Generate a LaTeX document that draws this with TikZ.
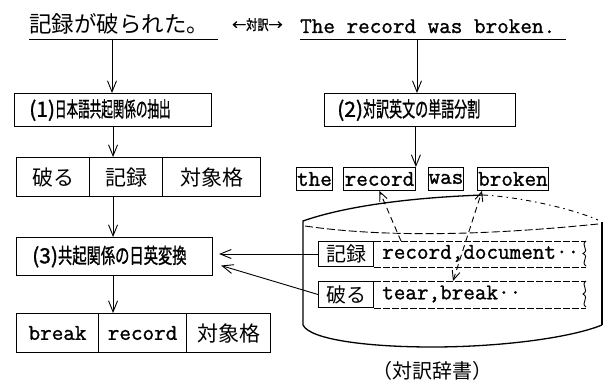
\documentclass[tikz,border=0pt]{standalone}
\usepackage{fontspec}
\usetikzlibrary{arrows.meta}
\setmonofont[FakeBold=1.2]{Latin Modern Mono}
\newfontfamily\jp{Noto Sans CJK JP}
\newfontfamily\jpp[FakeBold=1.3]{Noto Sans CJK JP}
\newcommand\fsz[1]{\fontsize{#1}{#1}\selectfont}
\newcommand\cnd[2]{\scalebox{#1}[1]{#2}}
\tikzset{
  arr/.style={-{Straight Barb[length=11pt,width=9pt]}, line width=0.9pt},
  darr/.style={-{Straight Barb[length=9pt,width=8pt]}, line width=0.9pt, dash pattern=on 6pt off 4pt},
  ddarr/.style={{Straight Barb[length=9pt,width=8pt]}-{Straight Barb[length=9pt,width=8pt]}, line width=0.9pt, dash pattern=on 6pt off 4pt},
  box/.style={draw, line width=1.1pt, anchor=north west, inner sep=0pt},
  boxtext/.style={anchor=west, inner sep=0pt, font=\jpp\fsz{21}},
  cell/.style={draw, line width=1.1pt, anchor=north west, inner sep=0pt},
  wbox/.style={draw, line width=0.9pt, anchor=north west, inner sep=0pt, minimum height=23pt, font=\ttfamily\fsz{22.5}},
  dcell/.style={draw, line width=1pt, anchor=north west, inner sep=0pt, minimum width=55pt, font=\jp\fsz{20}},
  ulin/.style={line width=0.8pt},
  cyl/.style={line width=1.3pt},
  rowedge/.style={line width=0.8pt, dash pattern=on 7pt off 2pt},
}
\begin{document}
\begin{tikzpicture}[x=1pt, y=-1pt]
\useasboundingbox (0,0) rectangle (605,382);

% titles
\node[anchor=base west, inner sep=0pt] (tjp) at (29,33) {\jp\fsz{22.5}記録が破られた。};
\node[anchor=base west, inner sep=0pt] (tmid) at (232,30) {\jpp\fsz{14}←\cnd{0.8}{対訳}→};
\node[anchor=base west, inner sep=0pt] (ten) at (300,33) {\ttfamily\fsz{22.5}The record was broken.};
\draw[ulin] (29,39) -- (218,39);
\draw[ulin] (300,39) -- (566,39);
\coordinate (u1) at (112,39);
\coordinate (u2) at (417,39);

% process boxes
\node[box, minimum width=197pt, minimum height=33pt,
      label={[boxtext]west:\hspace{15pt}(1)\cnd{0.55}{日本語共起関係の抽出}}] (b1) at (14,93) {};
\node[box, minimum width=191pt, minimum height=33pt,
      label={[boxtext]west:\hspace{13pt}(2)\cnd{0.62}{対訳英文の単語分割}}] (b2) at (324,93) {};
\node[box, minimum width=196pt, minimum height=38pt,
      label={[boxtext]west:\hspace{16pt}(3)\cnd{0.68}{共起関係の日英変換}}] (b3) at (16,237) {};

% table 1
\node[cell, minimum width=73pt, minimum height=39pt] (t1a) at (16,157) {\jp\fsz{21}破る};
\node[cell, minimum width=73pt, minimum height=39pt] (t1b) at (89,157) {\jp\fsz{21}記録};
\node[cell, minimum width=98pt, minimum height=39pt] (t1c) at (162,157) {\jp\fsz{21}対象格};

% table 2
\node[cell, minimum width=82pt, minimum height=39pt] (t2a) at (16,313) {\ttfamily\fsz{22.5}break};
\node[cell, minimum width=88pt, minimum height=39pt] (t2b) at (98,313) {\ttfamily\fsz{22.5}record};
\node[cell, minimum width=84pt, minimum height=39pt] (t2c) at (186,313) {\jp\fsz{21}対象格};

% sentence words
\node[wbox, minimum width=36pt] (wthe) at (296,167) {the};
\node[wbox, minimum width=72pt] (wrec) at (343,167) {record};
\node[wbox, minimum width=35pt] (wwas) at (428,167) {was};
\node[wbox, minimum width=71pt] (wbro) at (477,167) {broken};

% vertical arrows
\draw[arr] (u1) -- (u1 |- b1.north);
\draw[arr] (u2) -- (u2 |- b2.north);
\draw[arr] (b1.south) -- (b1.south |- t1b.north);
\draw[arr] (b1.south |- t1b.south) -- (b1.south |- b3.north);
\draw[arr] (b1.south |- b3.south) -- (b1.south |- t2b.north);
\draw[arr] (wrec.north east |- b2.south) -- (wrec.north east);

% dictionary cylinder
\draw[cyl] (303,325) -- (303,221) .. controls (340,208) and (400,198) .. (483,195);
\draw[line width=0.9pt, dash pattern=on 5pt off 4pt on 1.5pt off 4pt] (483,195) .. controls (520,197) and (570,208) .. (598,220);
\draw[line width=0.9pt, dash pattern=on 8pt off 3pt] (305,226) .. controls (380,237) and (480,236) .. (598,224);
\draw[cyl] (602,222) -- (602,325);
\draw[cyl] (303,325) .. controls (310,340) and (370,347) .. (432,347) .. controls (500,347) and (570,338) .. (602,325);

% dictionary rows
\node[dcell, minimum height=25pt] (dk) at (318,241) {記録};
\node[dcell, minimum height=26pt] (dy) at (318,281) {破る};
\node[anchor=west, inner sep=0pt, font=\ttfamily\fsz{22.5}] (dkr) at (382,253.5) {record,document··};
\node[anchor=west, inner sep=0pt, font=\ttfamily\fsz{22.5}] (dyr) at (382,294) {tear,break··};
\coordinate (re) at (586,0);
\draw[rowedge] (dk.north east) -- (dk.north east -| re);
\draw[rowedge] (dk.south east) -- (dk.south east -| re);
\draw[rowedge] (dy.north east) -- (dy.north east -| re);
\draw[rowedge] (dy.south east) -- (dy.south east -| re);
\draw[line width=0.9pt] (586,241) .. controls (580,245) and (590,250) .. (583,253.5) .. controls (590,257) and (580,262) .. (586,266);
\draw[line width=0.9pt] (586,281) .. controls (580,285) and (590,290) .. (583,294) .. controls (590,298) and (580,303) .. (586,307);

% arrows to (3)
\draw[arr] (dk.west) -- ([xshift=6pt]b3.east |- dk.west);
\draw[arr] (dy.west) -- ([xshift=8pt,yshift=-9pt]b3.east);

% correspondence (dashed)
\draw[darr] ([xshift=27pt]dk.north east) -- (wrec.south);
\draw[ddarr] ([xshift=79pt]dy.north east) -- ([xshift=5pt]wbro.south west);

% label
\node[inner sep=0pt] (lbl) at (432,371) {\jp\fsz{20}（対訳辞書）};
\end{tikzpicture}
\end{document}
